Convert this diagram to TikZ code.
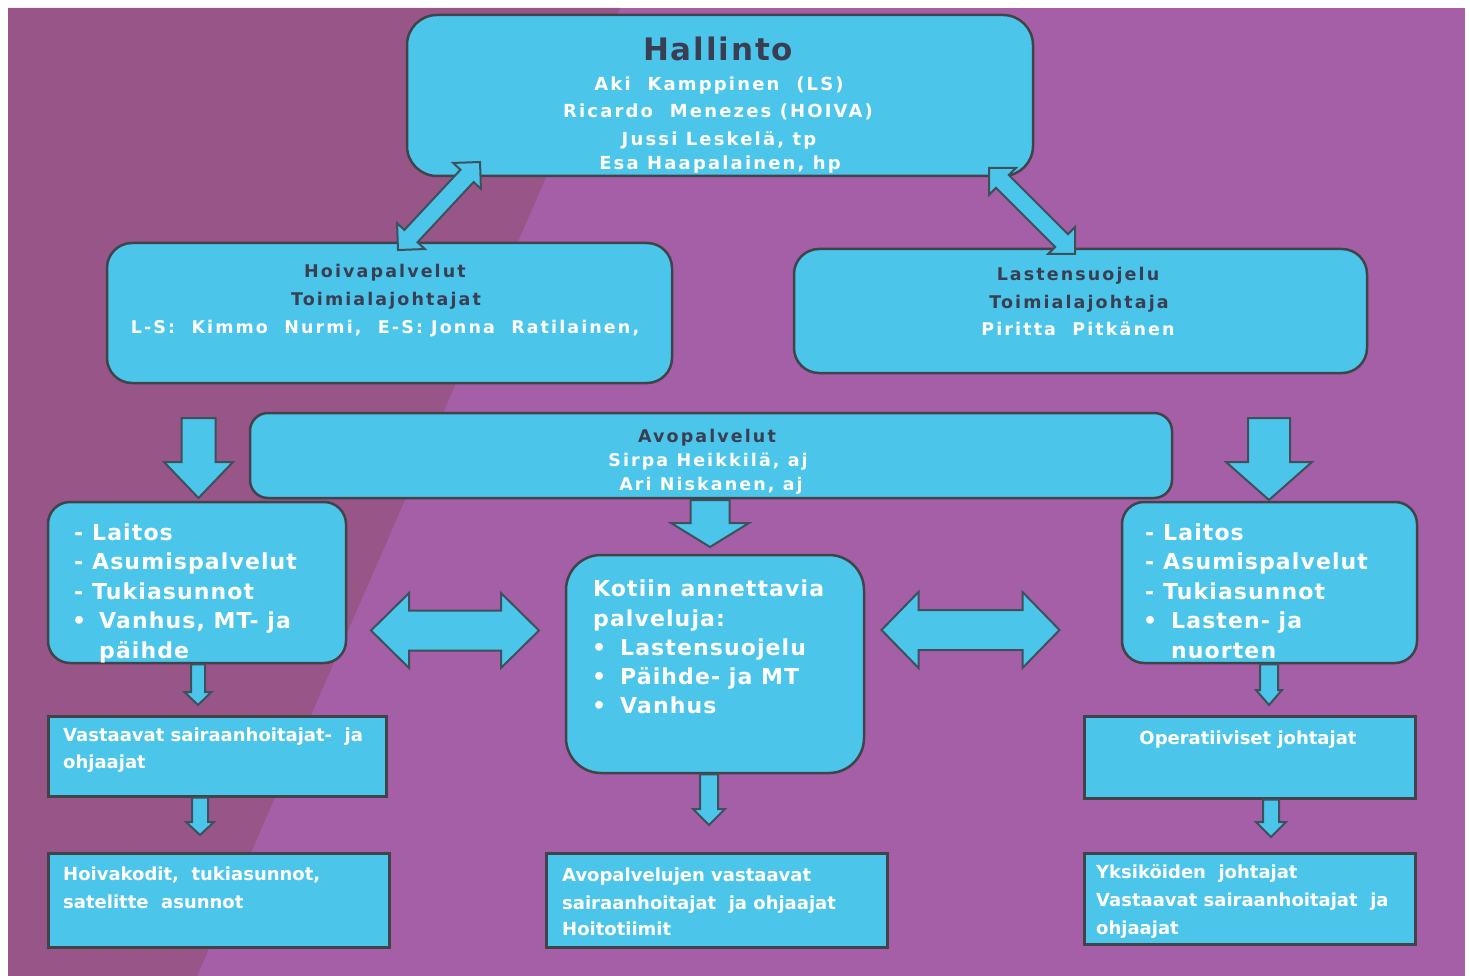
\documentclass[tikz,border=0pt]{standalone}
\usepackage{fontspec}
\setmainfont{DejaVu Sans}
\newfontfamily\hdrfam{DejaVu Sans}[LetterSpace=12]
\newfontfamily\listfam{DejaVu Sans}[LetterSpace=5]
\newfontfamily\titlefam{DejaVu Sans}[LetterSpace=6]
\usetikzlibrary{calc}

\definecolor{bgdark}{RGB}{151,85,136}
\definecolor{bglight}{RGB}{164,95,166}
\definecolor{boxfill}{RGB}{75,198,234}
\definecolor{boxline}{RGB}{64,68,74}
\definecolor{arrowline}{RGB}{62,80,92}
\definecolor{titletext}{RGB}{58,62,82}

% block arrow with one head: tail, tip, half shaft, half head, head length
\newcommand\singleblock[5]{%
  \coordinate (sb-h) at ($(#2)!#5!(#1)$);
  \draw[blockarrow] ($(#1)!#3!90:(#2)$) -- ($(sb-h)!#3!90:(#2)$)
    -- ($(sb-h)!#4!90:(#2)$) -- (#2) -- ($(sb-h)!#4!-90:(#2)$)
    -- ($(sb-h)!#3!-90:(#2)$) -- ($(#1)!#3!-90:(#2)$) -- cycle;
}
% block arrow with two heads: tip, tip, half shaft, half head, head length
\newcommand\doubleblock[5]{%
  \coordinate (db-a) at ($(#1)!#5!(#2)$);
  \coordinate (db-b) at ($(#2)!#5!(#1)$);
  \draw[blockarrow] (#1) -- ($(db-a)!#4!90:(#2)$) -- ($(db-a)!#3!90:(#2)$)
    -- ($(db-b)!#3!90:(#2)$) -- ($(db-b)!#4!90:(#2)$) -- (#2)
    -- ($(db-b)!#4!-90:(#2)$) -- ($(db-b)!#3!-90:(#2)$)
    -- ($(db-a)!#3!-90:(#2)$) -- ($(db-a)!#4!-90:(#2)$) -- cycle;
}

\begin{document}
\begin{tikzpicture}[x=1pt,y=-1pt,
  rbox/.style={draw=boxline,line width=2.5pt,fill=boxfill,inner sep=0pt},
  sbox/.style={draw=boxline,line width=3pt,fill=boxfill,inner sep=0pt},
  blockarrow/.style={draw=arrowline,line width=2pt,fill=boxfill,line join=miter},
  titletxt/.style={inner sep=0pt,yshift=-8pt,text=titletext,font=\titlefam\bfseries\fontsize{31}{36}\selectfont},
  headdark/.style={inner sep=0pt,yshift=-5pt,text=titletext,font=\hdrfam\bfseries\fontsize{17.5}{21}\selectfont},
  headwhite/.style={inner sep=0pt,yshift=-5pt,text=white,font=\hdrfam\bfseries\fontsize{17.5}{21}\selectfont},
  hallwhite/.style={headwhite,font=\hdrfam\bfseries\fontsize{18}{21}\selectfont},
  listtxt/.style={inner sep=0pt,yshift=-6pt,text=white,font=\listfam\bfseries\fontsize{22}{25}\selectfont},
  smalltxt/.style={inner sep=0pt,yshift=-4pt,text=white,font=\bfseries\fontsize{18}{20}\selectfont}]

\useasboundingbox (0,0) rectangle (1470,976);

% backdrop: white margin, two purple panels split by a slanted edge
\fill[white] (0,0) rectangle (1470,976);
\fill[bglight] (8,8) rectangle (1465,976);
\fill[bgdark] (8,8) -- (620,8) -- (197,976) -- (8,976) -- cycle;

% ---------- boxes ----------
\node[rbox,rounded corners=30pt,minimum width=626pt,minimum height=161pt] (hall) at (720,95.5) {};
\node[rbox,rounded corners=25pt,minimum width=565pt,minimum height=140pt] (hoiva) at (389.5,313) {};
\node[rbox,rounded corners=25pt,minimum width=573pt,minimum height=124pt] (lasten) at (1080.5,311) {};
\node[rbox,rounded corners=18pt,minimum width=922pt,minimum height=85pt] (avo) at (711,455.5) {};
\node[rbox,rounded corners=22pt,minimum width=298pt,minimum height=161pt] (laitosL) at (197,582.5) {};
\node[rbox,rounded corners=35pt,minimum width=298pt,minimum height=218pt] (kotiin) at (715,664) {};
\node[rbox,rounded corners=22pt,minimum width=295pt,minimum height=161pt] (laitosR) at (1269.5,582.5) {};
\node[sbox,minimum width=338pt,minimum height=80pt] (vast) at (217,756) {};
\node[sbox,minimum width=341pt,minimum height=94pt] (hoivak) at (218.5,900) {};
\node[sbox,minimum width=341pt,minimum height=94pt] (avov) at (716.5,900) {};
\node[sbox,minimum width=331pt,minimum height=82pt] (oper) at (1249.5,757) {};
\node[sbox,minimum width=331pt,minimum height=91pt] (yks) at (1249.5,898.5) {};

% ---------- texts ----------
\node[titletxt,anchor=mid] (t-hall) at (718,50) {Hallinto};
\node[hallwhite,anchor=mid] (t-h1) at (719,83) {Aki\ \ Kamppinen\ \ (LS)};
\node[hallwhite,anchor=mid] (t-h2) at (718,110) {Ricardo\ \ Menezes (HOIVA)};
\node[hallwhite,anchor=mid] (t-h3) at (719,137.5) {Jussi Leskelä, tp};
\node[hallwhite,anchor=mid] (t-h4) at (720,162) {Esa Haapalainen, hp};

\node[headdark,anchor=mid] (t-hv1) at (385,270) {Hoivapalvelut};
\node[headdark,anchor=mid] (t-hv2) at (386,298) {Toimialajohtajat};
\node[headwhite,anchor=mid] (t-hv3) at (385,326) {L-S:\ \ Kimmo\ \ Nurmi,\ \ E-S: Jonna\ \ Ratilainen,};

\node[headdark,anchor=mid] (t-ls1) at (1078,273) {Lastensuojelu};
\node[headdark,anchor=mid] (t-ls2) at (1079,301) {Toimialajohtaja};
\node[headwhite,anchor=mid] (t-ls3) at (1078,328) {Piritta\ \ Pitkänen};

\node[headdark,anchor=mid] (t-av1) at (707,435) {Avopalvelut};
\node[headwhite,anchor=mid] (t-av2) at (708,459) {Sirpa Heikkilä, aj};
\node[headwhite,anchor=mid] (t-av3) at (711,483) {Ari Niskanen, aj};

% left list
\node[listtxt,anchor=mid west] (l-b1) at (74,532) {-};
\node[listtxt,anchor=mid west] (l-w1) at (92,532) {Laitos};
\node[listtxt,anchor=mid west] (l-b2) at (74,561) {-};
\node[listtxt,anchor=mid west] (l-w2) at (92,561) {Asumispalvelut};
\node[listtxt,anchor=mid west] (l-b3) at (74,591) {-};
\node[listtxt,anchor=mid west] (l-w3) at (92,591) {Tukiasunnot};
\node[listtxt,anchor=mid west] (l-b4) at (72,620) {•};
\node[listtxt,anchor=mid west] (l-w4) at (99,620) {Vanhus, MT- ja};
\node[listtxt,anchor=mid west] (l-w5) at (99,650) {päihde};

% home services
\node[listtxt,anchor=mid west] (k-w1) at (593,588) {Kotiin annettavia};
\node[listtxt,anchor=mid west] (k-w2) at (593,618) {palveluja:};
\node[listtxt,anchor=mid west] (k-b3) at (592,647) {•};
\node[listtxt,anchor=mid west] (k-w3) at (620,647) {Lastensuojelu};
\node[listtxt,anchor=mid west] (k-b4) at (592,676) {•};
\node[listtxt,anchor=mid west] (k-w4) at (620,676) {Päihde- ja MT};
\node[listtxt,anchor=mid west] (k-b5) at (592,705) {•};
\node[listtxt,anchor=mid west] (k-w5) at (620,705) {Vanhus};

% right list
\node[listtxt,anchor=mid west] (r-b1) at (1145,532) {-};
\node[listtxt,anchor=mid west] (r-w1) at (1163,532) {Laitos};
\node[listtxt,anchor=mid west] (r-b2) at (1145,561) {-};
\node[listtxt,anchor=mid west] (r-w2) at (1163,561) {Asumispalvelut};
\node[listtxt,anchor=mid west] (r-b3) at (1145,591) {-};
\node[listtxt,anchor=mid west] (r-w3) at (1163,591) {Tukiasunnot};
\node[listtxt,anchor=mid west] (r-b4) at (1143,620) {•};
\node[listtxt,anchor=mid west] (r-w4) at (1171,620) {Lasten- ja};
\node[listtxt,anchor=mid west] (r-w5) at (1171,650) {nuorten};

% lower boxes
\node[smalltxt,anchor=mid west] (v-1) at (63,735) {Vastaavat sairaanhoitajat-\ \ ja};
\node[smalltxt,anchor=mid west] (v-2) at (63,762) {ohjaajat};
\node[smalltxt,anchor=mid west] (hk-1) at (63,874) {Hoivakodit,\ \ tukiasunnot,};
\node[smalltxt,anchor=mid west] (hk-2) at (63,902) {satelitte\ \ asunnot};
\node[smalltxt,anchor=mid west] (av-1) at (562,875) {Avopalvelujen vastaavat};
\node[smalltxt,anchor=mid west] (av-2) at (562,903) {sairaanhoitajat\ \ ja ohjaajat};
\node[smalltxt,anchor=mid west] (av-3) at (562,929) {Hoitotiimit};
\node[smalltxt,anchor=mid] (op-1) at (1248,738) {Operatiiviset johtajat};
\node[smalltxt,anchor=mid west] (yk-1) at (1096,872) {Yksiköiden\ \ johtajat};
\node[smalltxt,anchor=mid west] (yk-2) at (1096,900) {Vastaavat sairaanhoitajat\ \ ja};
\node[smalltxt,anchor=mid west] (yk-3) at (1096,928) {ohjaajat};

% ---------- block arrows ----------
\coordinate (dL-a) at (398,250);   \coordinate (dL-b) at (480,162);
\coordinate (dR-a) at (989,168);   \coordinate (dR-b) at (1075,254);
\doubleblock{dL-a}{dL-b}{9pt}{19pt}{19pt}
\doubleblock{dR-a}{dR-b}{9pt}{19pt}{19pt}

\coordinate (bL-a) at (198.5,418); \coordinate (bL-b) at (198.5,498);
\coordinate (bR-a) at (1269,418);  \coordinate (bR-b) at (1269,500);
\coordinate (bM-a) at (710,500);   \coordinate (bM-b) at (710,547);
\singleblock{bL-a}{bL-b}{17pt}{34.5pt}{36pt}
\singleblock{bR-a}{bR-b}{21pt}{43pt}{38pt}
\singleblock{bM-a}{bM-b}{19.5pt}{39pt}{24pt}

\coordinate (hL-a) at (371,630.5); \coordinate (hL-b) at (539,630.5);
\coordinate (hR-a) at (881.5,630); \coordinate (hR-b) at (1059.5,630);
\doubleblock{hL-a}{hL-b}{20pt}{37.5pt}{38pt}
\doubleblock{hR-a}{hR-b}{20pt}{38pt}{37pt}

\coordinate (sL1-a) at (laitosL.south -| 198,0); \coordinate (sL1-b) at (198,705);
\coordinate (sL2-a) at (vast.south -| 200,0);    \coordinate (sL2-b) at (200,835);
\coordinate (sM-a) at (kotiin.south -| 709,0);   \coordinate (sM-b) at (709,825);
\coordinate (sR1-a) at (laitosR.south -| 1269,0); \coordinate (sR1-b) at (1269,705);
\coordinate (sR2-a) at (oper.south -| 1271,0);   \coordinate (sR2-b) at (1271,837);
\singleblock{sL1-a}{sL1-b}{7pt}{13.5pt}{13pt}
\singleblock{sL2-a}{sL2-b}{8pt}{14pt}{13pt}
\singleblock{sM-a}{sM-b}{9pt}{16pt}{16pt}
\singleblock{sR1-a}{sR1-b}{9pt}{13pt}{15pt}
\singleblock{sR2-a}{sR2-b}{8pt}{15pt}{15pt}

\end{tikzpicture}
\end{document}
